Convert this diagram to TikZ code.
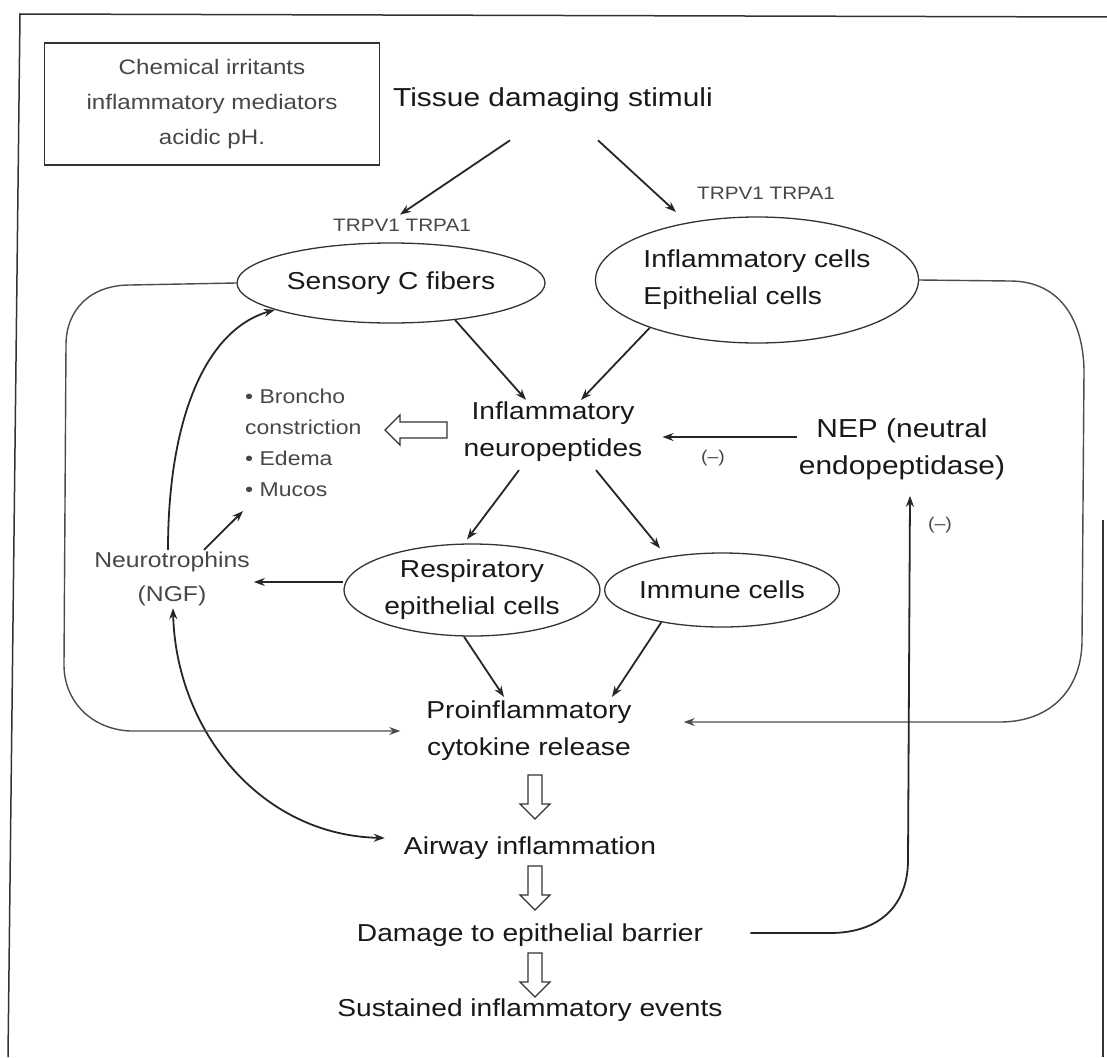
\documentclass[tikz,border=0pt]{standalone}
\usepackage{fontspec}
\setmainfont{Liberation Sans}[FakeStretch=1.15]
\usetikzlibrary{shapes.geometric,arrows.meta}
\begin{document}
\begin{tikzpicture}[x=1pt,y=-1pt,
  main/.style={font=\fontsize{24.5}{37}\selectfont, text=black!90, inner sep=2pt, align=center},
  small/.style={font=\fontsize{21}{35}\selectfont, text=black!72, inner sep=2pt, align=center},
  oval/.style={ellipse, draw=black!80, line width=1.3pt, inner sep=0pt},
  arr/.style={draw=black!85, line width=1.8pt, -{Stealth[length=11pt,width=8pt]}},
  darr/.style={draw=black!85, line width=1.8pt, {Stealth[length=11pt,width=8pt]}-{Stealth[length=11pt,width=8pt]}},
  loopline/.style={draw=black!70, line width=1.4pt, -{Stealth[length=11pt,width=8pt]}},
  hollow/.style={draw=black!80, line width=1.3pt, fill=white},
  frameline/.style={draw=black!80, line width=1.5pt},
  downhollow/.pic={\path[hollow] (-7,0) -- (-7,29) -- (-15,29) -- (0,44) -- (15,29) -- (7,29) -- (7,0) -- cycle;},
  lefthollow/.pic={\path[hollow] (0,-8) -- (-47,-8) -- (-47,-15) -- (-62,0) -- (-47,15) -- (-47,8) -- (0,8) -- cycle;},
]
\useasboundingbox (0,0) rectangle (1107,1057);
\fill[white] (0,0) rectangle (1107,1057);

% frame
\draw[frameline] (8,1057) -- (20,14) -- (1107,17);
\draw[frameline] (1103,520) -- (1103,1057);

% nodes
\node[small, draw=black!80, line width=1.3pt, minimum width=335, minimum height=122] (chem) at (212,104) {Chemical irritants\\inflammatory mediators\\acidic pH.};
\node[main, font=\fontsize{26}{37}\selectfont] (tissue) at (553,100) {Tissue damaging stimuli};
\node[small, font=\fontsize{18}{22}\selectfont] (trpL) at (402,225) {TRPV1 TRPA1};
\node[small, font=\fontsize{18}{22}\selectfont] (trpR) at (766,193) {TRPV1 TRPA1};
\node[main, oval, minimum width=308, minimum height=80] (sens) at (391,283) {Sensory C fibers};
\node[main, oval, align=left, minimum width=323, minimum height=126] (infl) at (757,280) {Inflammatory cells\\Epithelial cells};
\node[main] (neuro) at (553,432) {Inflammatory\\neuropeptides};
\node[small, align=left, anchor=west, font=\fontsize{20}{31}\selectfont] (bul) at (243,443) {• Broncho\\constriction\\• Edema\\• Mucos};
\node[main, font=\fontsize{26}{37}\selectfont] (nep) at (902,449) {NEP (neutral\\endopeptidase)};
\node[small, font=\fontsize{17}{20}\selectfont] (m1) at (713,458) {(–)};
\node[small, font=\fontsize{17}{20}\selectfont] (m2) at (940,525) {(–)};
\node[main, oval, minimum width=256, minimum height=92] (resp) at (472,590) {Respiratory\\epithelial cells};
\node[main, oval, minimum width=219, minimum height=74] (imm) at (722,590) {Immune cells};
\node[small, font=\fontsize{21.5}{34}\selectfont] (ngf) at (172,579) {Neurotrophins\\(NGF)};
\node[main] (cyto) at (529,731) {Proinflammatory\\cytokine release};
\node[main] (air) at (530,848) {Airway inflammation};
\node[main] (dmg) at (530,935) {Damage to epithelial barrier};
\node[main] (sus) at (530,1010) {Sustained inflammatory events};

% connectors
\draw[arr] ([xshift=-43pt,yshift=-26pt]tissue.south) -- ([xshift=-2pt,yshift=2pt]trpL.north);
\draw[arr] ([xshift=45pt,yshift=-26pt]tissue.south) -- ([xshift=-19pt,yshift=-19pt]trpR.west);
\draw[arr] (sens.-30) -- ([xshift=-27pt]neuro.north);
\draw[arr] (infl.204) -- ([xshift=28pt]neuro.north);
\draw[arr] ([yshift=12pt]nep.west) -- ([xshift=18pt,yshift=-5pt]neuro.east);
\draw[arr] ([xshift=-34pt,yshift=-6pt]neuro.south) -- ([xshift=-5pt,yshift=4pt]resp.north);
\draw[arr] ([xshift=43pt,yshift=-6pt]neuro.south) -- ([xshift=-62pt,yshift=4pt]imm.north);
\draw[arr] ([yshift=8pt]resp.west) -- ([xshift=2pt,yshift=-3pt]ngf.east);
\draw[arr] ([xshift=32pt]ngf.north) -- ([yshift=-12pt]bul.south west);
\draw[arr] ([xshift=-4pt]ngf.north) .. controls (168,420) and (205,330) .. (sens.193);
\draw[arr] ([xshift=-8pt]resp.south) -- ([xshift=-25pt,yshift=2pt]cyto.north);
\draw[arr] (imm.208) -- ([xshift=83pt,yshift=2pt]cyto.north);
\draw[darr] ([xshift=1pt]ngf.south) .. controls (176,730) and (260,835) .. ([xshift=-17pt,yshift=10pt]air.west);

% feedback loops
\draw[loopline] (sens.west) -- (130,285) .. controls (90,285) and (66,310) .. (66,345) -- (64,665) .. controls (64,700) and (90,729) .. (130,731) -- ([xshift=-24pt]cyto.west);
\draw[loopline] (infl.east) -- (1010,281) .. controls (1060,281) and (1083,320) .. (1084,370) -- (1082,640) .. controls (1082,690) and (1050,722) .. (1000,722) -- ([xshift=50pt,yshift=9pt]cyto.east);
\draw[arr] ([xshift=45pt,yshift=2pt]dmg.east) -- (830,933) .. controls (880,933) and (908,905) .. (908,860) -- ([xshift=8pt,yshift=-14pt]nep.south);

% hollow arrows
\pic at (447,430) {lefthollow};
\pic at (535,775) {downhollow};
\pic at (535,866) {downhollow};
\pic at (535,953) {downhollow};
\end{tikzpicture}
\end{document}
